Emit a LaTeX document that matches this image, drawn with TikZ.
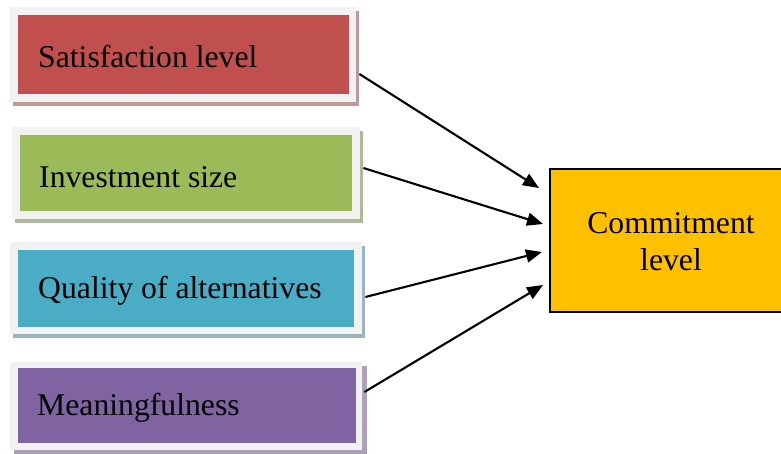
\documentclass[tikz,border=0pt]{standalone}
\usepackage{fontspec}
\setmainfont{Liberation Serif}
\usetikzlibrary{arrows.meta,calc}
\definecolor{cred}{HTML}{C0504D}
\definecolor{cgreen}{HTML}{9BBB59}
\definecolor{cblue}{HTML}{4BACC6}
\definecolor{cpurple}{HTML}{8064A2}
\definecolor{corange}{HTML}{FFC000}
\definecolor{cframe}{HTML}{F2F2F2}
\definecolor{sred}{HTML}{BC9A9A}
\definecolor{sgreen}{HTML}{ADBA9C}
\definecolor{sblue}{HTML}{98B6C0}
\definecolor{spurple}{HTML}{ABA2B8}
\tikzset{
  frame/.style={fill=cframe},
  shade/.style={fill=#1},
  colbox/.style={fill=#1, inner sep=0pt},
  lab/.style={anchor=base west, inner sep=0pt, font=\fontsize{31.7}{37}\selectfont},
  target/.style={draw=black, line width=1.6pt, fill=corange, inner sep=0pt},
  arr/.style={line width=2.1pt, -{Triangle[length=16pt,width=13pt]}}
}
\begin{document}
\begin{tikzpicture}[x=1pt,y=-1pt]
\clip (0,0) rectangle (781,453);
\fill[white] (0,0) rectangle (781,453);
% box 1
\fill[shade=sred] (13,11) rectangle (359,106);
\fill[frame] (10,7) rectangle (356,102);
\node[colbox=cred, minimum width=331pt, minimum height=79pt, anchor=north west] (b1) at (18,15) {};
\node[lab] (t1) at (38,67) {Satisfaction level};
% box 2
\fill[shade=sgreen] (15,131) rectangle (363,223);
\fill[frame] (12,127) rectangle (360,219);
\node[colbox=cgreen, minimum width=332pt, minimum height=76pt, anchor=north west] (b2) at (20,135) {};
\node[lab] (t2) at (39,187) {Investment size};
% box 3
\fill[shade=sblue] (13,246) rectangle (365,338);
\fill[frame] (10,242) rectangle (362,334);
\node[colbox=cblue, minimum width=336pt, minimum height=77pt, anchor=north west] (b3) at (18,250) {};
\node[lab] (t3) at (38,298) {Quality of alternatives};
% box 4
\fill[shade=spurple] (14,366) rectangle (367,454);
\fill[frame] (10,362) rectangle (362,450);
\node[colbox=cpurple, minimum width=338pt, minimum height=75pt, anchor=north west] (b4) at (18,368) {};
\node[lab] (t4) at (37,415) {Meaningfulness};
% target
\node[target, minimum width=244pt, minimum height=143pt, anchor=north west] (c) at (549,168) {};
\node[anchor=base, inner sep=0pt, align=center, font=\fontsize{31.7}{37}\selectfont] (ct) at (671,270) {Commitment\\level};
% arrows
\draw[arr] ($(b1.north east)+(10,59)$) -- ($(c.north west)+(-10,20)$);
\draw[arr] ($(b2.north east)+(11,33)$) -- ($(c.north west)+(-6,56)$);
\draw[arr] ($(b3.north east)+(11,47)$) -- ($(c.north west)+(-7,84)$);
\draw[arr] ($(b4.north east)+(8,24)$) -- ($(c.north west)+(-6,117)$);
\end{tikzpicture}
\end{document}
